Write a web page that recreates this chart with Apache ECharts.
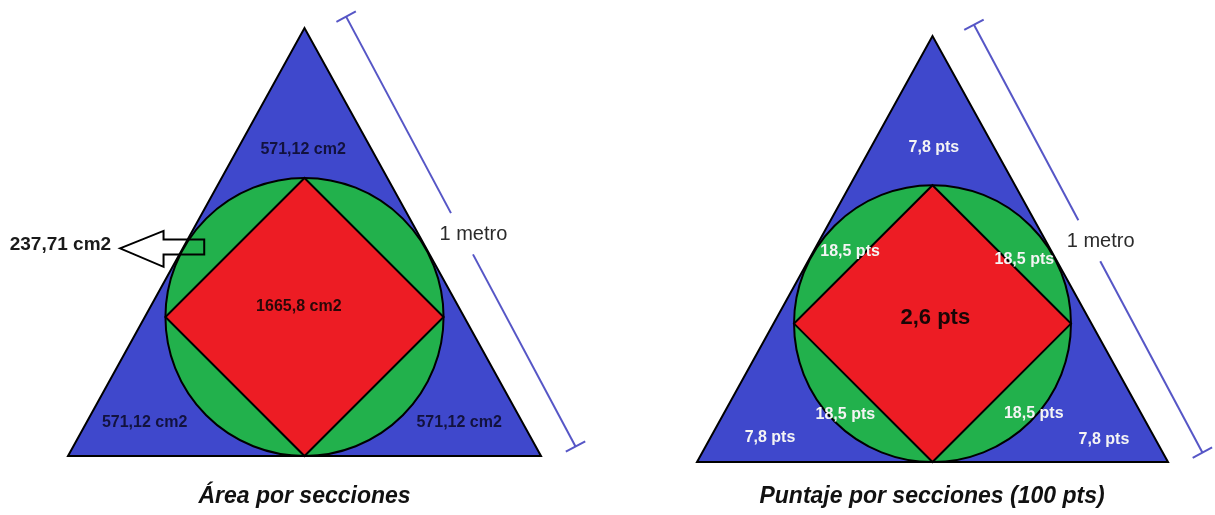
<!DOCTYPE html>
<html>
<head>
<meta charset="utf-8">
<title>Área por secciones</title>
<script src="https://cdn.jsdelivr.net/npm/echarts@6/dist/echarts.min.js"></script>
<style>
html, body { margin: 0; padding: 0; background: #fff; }
#chart { width: 1215px; height: 515px; }
</style>
</head>
<body>
<div id="chart"></div>
<script>
// geometria en cm, lado del triangulo = 100 cm (1 metro)
var triangle = [[0, 0], [100, 0], [50, 90.5]]
var circleCenter = [50, 29.4]
var circleRadius = 29.4
var diamond = [[50, 58.8], [79.4, 29.4], [50, 0], [20.6, 29.4]]
var ruler = [[58.8, 92.9], [107.3, 2.0]]
var rulerGap = [0.457, 0.553]
var rulerText = '1 metro'
var rulerTextPos = [85.7, 46.9]

// panel izquierdo: area
var areaTitle = 'Área por secciones'
var areaTitlePos = [50, -8.7]
var areaLabels = ['571,12 cm2', '571,12 cm2', '571,12 cm2', '1665,8 cm2']
var areaLabelPos = [[49.7, 64.7], [16.2, 7.0], [82.7, 7.0], [48.8, 31.6]]
var segmentLabel = '237,71 cm2'
var segmentLabelPos = [-1.6, 44.6]
var arrow = [[11.0, 43.9], [20.2, 47.6], [20.2, 45.8], [28.8, 45.8], [28.8, 42.6], [20.2, 42.6], [20.2, 40.0]]

// panel derecho: puntaje
var scoreTitle = 'Puntaje por secciones (100 pts)'
var scoreTitlePos = [49.9, -7.4]
var scoreLabels = ['7,8 pts', '7,8 pts', '7,8 pts', '18,5 pts', '18,5 pts', '18,5 pts', '18,5 pts', '2,6 pts']
var scoreLabelPos = [[50.3, 66.7], [15.5, 5.1], [86.4, 4.7], [32.5, 44.7], [69.5, 43.1], [31.5, 10.0], [71.5, 10.2], [50.6, 30.6]]

var FONT = '"Liberation Sans", Arial, sans-serif'
var BLUE = '#3f48cc'
var GREEN = '#22b14c'
var RED = '#ed1c24'
var RULER = '#5656c6'

function polygonSeries (grid, points, fill, lw) {
  return {
    type: 'custom', xAxisIndex: grid, yAxisIndex: grid, clip: false, silent: true,
    data: [0],
    renderItem: function (params, api) {
      return {
        type: 'polygon',
        shape: { points: points.map(function (p) { return api.coord(p) }) },
        style: { fill: fill, stroke: '#000', lineWidth: lw, lineJoin: 'miter' }
      }
    }
  }
}

function circleSeries (grid) {
  return {
    type: 'custom', xAxisIndex: grid, yAxisIndex: grid, clip: false, silent: true,
    data: [0],
    renderItem: function (params, api) {
      var c = api.coord(circleCenter)
      var r = api.size([circleRadius, 0])[0]
      return {
        type: 'circle',
        shape: { cx: c[0], cy: c[1], r: r },
        style: { fill: GREEN, stroke: '#000', lineWidth: 2 }
      }
    }
  }
}

function rulerSeries (grid) {
  return {
    type: 'custom', xAxisIndex: grid, yAxisIndex: grid, clip: false, silent: true,
    data: [0],
    renderItem: function (params, api) {
      var a = api.coord(ruler[0])
      var b = api.coord(ruler[1])
      var dx = b[0] - a[0], dy = b[1] - a[1]
      var len = Math.sqrt(dx * dx + dy * dy)
      var nx = -dy / len * 11, ny = dx / len * 11
      var g1 = [a[0] + dx * rulerGap[0], a[1] + dy * rulerGap[0]]
      var g2 = [a[0] + dx * rulerGap[1], a[1] + dy * rulerGap[1]]
      var st = { stroke: RULER, lineWidth: 2 }
      var t = api.coord(rulerTextPos)
      return {
        type: 'group',
        children: [
          { type: 'line', shape: { x1: a[0], y1: a[1], x2: g1[0], y2: g1[1] }, style: st },
          { type: 'line', shape: { x1: g2[0], y1: g2[1], x2: b[0], y2: b[1] }, style: st },
          { type: 'line', shape: { x1: a[0] - nx, y1: a[1] - ny, x2: a[0] + nx, y2: a[1] + ny }, style: st },
          { type: 'line', shape: { x1: b[0] - nx, y1: b[1] - ny, x2: b[0] + nx, y2: b[1] + ny }, style: st },
          {
            type: 'text', x: t[0], y: t[1],
            style: { text: rulerText, fill: '#2b2b2b', font: '20px ' + FONT, align: 'center', verticalAlign: 'middle' }
          }
        ]
      }
    }
  }
}

function textSeries (grid, texts, positions, styleFn) {
  return {
    type: 'custom', xAxisIndex: grid, yAxisIndex: grid, clip: false, silent: true,
    data: positions,
    renderItem: function (params, api) {
      var i = params.dataIndex
      var p = api.coord([api.value(0), api.value(1)])
      var s = styleFn(i)
      return {
        type: 'text', x: p[0], y: p[1],
        style: { text: texts[i], fill: s.color, font: s.font, align: 'center', verticalAlign: 'middle' }
      }
    }
  }
}

var chart = echarts.init(document.getElementById('chart'))
chart.setOption({
  animation: false,
  backgroundColor: '#fff',
  grid: [
    { left: 68, top: 28, width: 473, height: 428 },
    { left: 697, top: 36, width: 471, height: 426 }
  ],
  xAxis: [
    { type: 'value', gridIndex: 0, min: 0, max: 100, show: false },
    { type: 'value', gridIndex: 1, min: 0, max: 100, show: false }
  ],
  yAxis: [
    { type: 'value', gridIndex: 0, min: 0, max: 90.5, show: false },
    { type: 'value', gridIndex: 1, min: 0, max: 90.5, show: false }
  ],
  series: [
    // panel izquierdo
    polygonSeries(0, triangle, BLUE, 2),
    circleSeries(0),
    polygonSeries(0, diamond, RED, 2),
    rulerSeries(0),
    polygonSeries(0, arrow, 'none', 2),
    textSeries(0, areaLabels, areaLabelPos, function (i) {
      return { color: i < 3 ? '#12123e' : '#2a0808', font: 'bold 16px ' + FONT }
    }),
    textSeries(0, [segmentLabel], [segmentLabelPos], function () {
      return { color: '#1a1a1a', font: 'bold 19px ' + FONT }
    }),
    textSeries(0, [areaTitle], [areaTitlePos], function () {
      return { color: '#111', font: 'italic bold 23px ' + FONT }
    }),
    // panel derecho
    polygonSeries(1, triangle, BLUE, 2),
    circleSeries(1),
    polygonSeries(1, diamond, RED, 2),
    rulerSeries(1),
    textSeries(1, scoreLabels, scoreLabelPos, function (i) {
      if (i === scoreLabels.length - 1) return { color: '#1a0606', font: 'bold 22px ' + FONT }
      return { color: '#f4f4f4', font: 'bold 16px ' + FONT }
    }),
    textSeries(1, [scoreTitle], [scoreTitlePos], function () {
      return { color: '#111', font: 'italic bold 23px ' + FONT }
    })
  ]
})
</script>
</body>
</html>
